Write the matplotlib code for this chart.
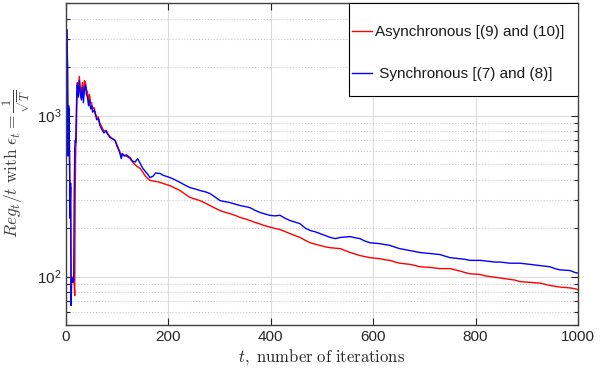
import numpy as np
import matplotlib
matplotlib.use("Agg")
import matplotlib.pyplot as plt
from matplotlib.patches import Rectangle
from matplotlib.ticker import LogLocator, NullFormatter

plt.rcParams['font.family'] = ['Liberation Sans', 'DejaVu Sans']

# values (t, Reg_t/t)
t_async = [2, 3, 4, 5, 6, 7, 8, 9, 10, 11, 12, 13, 14, 15, 16, 17, 18, 19, 20, 21,
           22, 24, 26, 28, 30, 32, 34, 36, 38, 40, 42, 44, 46, 48, 50, 52, 55, 58, 60, 63,
           66, 70, 74, 78, 82, 86, 90, 96, 100, 104, 108, 110, 114, 118, 125, 130, 135, 140, 145, 150,
           155, 160, 164, 170, 175, 184, 190, 203, 212, 223, 232, 242, 252, 262, 272, 281, 291, 301, 310, 320,
           330, 340, 350, 359, 369, 379, 388, 398, 408, 418, 428, 437, 447, 457, 467, 477, 486, 496, 506, 516,
           526, 536, 545, 555, 565, 574, 584, 594, 603, 613, 623, 633, 643, 652, 662, 672, 682, 691, 701, 711,
           720, 730, 740, 750, 760, 770, 779, 789, 799, 809, 818, 828, 838, 848, 857, 867, 877, 887, 896, 906,
           916, 926, 935, 945, 955, 965, 975, 984, 994, 1000]
reg_async = [3400, 1900, 600, 1100, 1000, 500, 250, 360, 85, 100, 95, 98, 94, 92, 90, 76, 350, 620, 700, 1100,
             1600, 1400, 1750, 1450, 1350, 1600, 1300, 1650, 1600, 1450, 1400, 1250, 1350, 1200, 1200, 1100, 1120, 1020, 980, 980,
             900, 850, 800, 810, 770, 740, 720, 700, 650, 610, 560, 580, 565, 560, 540, 515, 495, 480, 469, 445,
             420, 405, 395, 392, 390, 384, 378, 367, 355, 342, 326, 310, 303, 296, 286, 276, 266, 257, 251, 246,
             240, 233, 228, 223, 217, 212, 207, 203, 199, 196, 190, 185, 180, 175, 168, 162, 159, 156, 153, 151,
             150, 149, 145, 141, 138, 135, 133, 131, 130, 129, 127, 126, 123, 121, 120, 119, 117, 115, 114.5, 114,
             113, 112, 112, 112, 110, 108, 106, 104, 103.5, 103, 101, 100, 99, 98, 97, 96, 95, 93, 92.5, 92,
             91.5, 91, 89.5, 88, 87, 86, 85.5, 85, 84, 83]

t_sync = [2, 3, 4, 5, 6, 7, 8, 9, 10, 11, 12, 13, 14, 15, 16, 17, 18, 19, 20, 21,
          22, 24, 26, 28, 30, 32, 34, 36, 38, 40, 42, 44, 46, 48, 50, 52, 55, 58, 60, 63,
          66, 70, 74, 78, 82, 86, 90, 96, 100, 104, 108, 110, 114, 118, 125, 130, 135, 140, 145, 150,
          155, 160, 164, 170, 175, 184, 190, 203, 212, 223, 232, 242, 252, 262, 272, 281, 291, 301, 310, 320,
          330, 340, 350, 359, 369, 379, 388, 398, 408, 418, 428, 437, 447, 457, 467, 477, 486, 496, 506, 516,
          526, 536, 545, 555, 565, 574, 584, 594, 603, 613, 623, 633, 643, 652, 662, 672, 682, 691, 701, 711,
          720, 730, 740, 750, 760, 770, 779, 789, 799, 809, 818, 828, 838, 848, 857, 867, 877, 887, 896, 906,
          916, 926, 935, 945, 955, 965, 975, 984, 994, 1000]
reg_sync = [3400, 2000, 560, 1150, 1100, 480, 230, 380, 66, 95, 92, 97, 93, 95, 300, 620, 700, 680, 1000, 1350,
            1550, 1300, 1650, 1350, 1250, 1500, 1200, 1450, 1550, 1350, 1300, 1150, 1250, 1100, 1150, 1050, 1080, 1000, 940, 960,
            870, 820, 780, 800, 760, 730, 720, 700, 640, 600, 540, 580, 560, 570, 548, 520, 515, 540, 503, 470,
            450, 430, 412, 420, 440, 436, 425, 412, 400, 384, 370, 357, 350, 342, 336, 328, 312, 296, 292, 288,
            282, 276, 272, 268, 258, 250, 245, 240, 238, 240, 230, 223, 218, 213, 200, 193, 190, 185, 180, 175,
            172, 175, 176, 177, 174, 172, 166, 162, 161, 160, 158, 156, 152, 149, 147, 145, 143, 141, 140, 139,
            138, 137, 134, 131, 130, 129, 128, 126, 126, 126, 125, 124, 123, 123, 122, 121, 121, 121, 120, 119,
            118, 117, 116, 115, 112, 110, 109.5, 109, 106, 105]

labels = ['Asynchronous [(9) and (10)]', ' Synchronous [(7) and (8)]']
xticks = [0, 200, 400, 600, 800, 1000]

fig = plt.figure(figsize=(6.04, 3.79), dpi=100)
ax = fig.add_axes([66/604, 1 - 325/379, 512/604, 322/379])

ax.plot(t_async, reg_async, color=(1, 0, 0), lw=1.0, label=labels[0])
ax.plot(t_sync, reg_sync, color=(0, 0, 1), lw=1.0, label=labels[1])

ax.set_yscale('log')
ax.set_xlim(0, 1000)
ax.set_ylim(50, 5000)
ax.set_xticks(xticks)
ax.yaxis.set_minor_locator(LogLocator(base=10, subs=np.arange(2, 10)))
ax.yaxis.set_minor_formatter(NullFormatter())

ax.grid(True, which='major', color='#dcdcdc', lw=0.8, ls='-')
ax.grid(True, which='minor', axis='y', color='#c8c8c8', lw=0.8, ls=':')
ax.set_axisbelow(True)

ax.tick_params(which='both', direction='in', top=True, right=True, colors='#262626',
               labelsize=11, width=0.8)
ax.tick_params(which='major', length=5)
ax.tick_params(which='minor', length=3)
for s in ax.spines.values():
    s.set_color('#404040')
    s.set_linewidth(1.0)

ax.set_xlabel(r'$t\mathrm{,\ number\ of\ iterations}$', fontsize=12,
              math_fontfamily='cm', color='#262626')
ax.set_ylabel(r'$Reg_t/t\ \mathrm{with}\ \epsilon_t = \frac{1}{\sqrt{T}}$', fontsize=12.5,
              math_fontfamily='cm', color='#404040')
ax.xaxis.set_label_coords(0.5, -22 / 322)
ax.yaxis.set_label_coords(-33 / 512, 0.5)

# legend box flush to upper right corner
x0 = (349 - 66) / 512
y0 = (325 - 96) / 322
ax.add_patch(Rectangle((x0, y0), 1 - x0, 1 - y0, transform=ax.transAxes,
                       facecolor='white', edgecolor='black', lw=0.8, zorder=5))
leg = ax.legend(loc='upper left', bbox_to_anchor=(x0, 1 - 19 / 322), frameon=False,
                fontsize=11, handlelength=1.3, handletextpad=0.2,
                labelspacing=1.85, borderpad=0.2, borderaxespad=0.0)
leg.set_zorder(6)
for txt in leg.get_texts():
    txt.set_color('#1a1a1a')

fig.savefig('out.png', dpi=100)
